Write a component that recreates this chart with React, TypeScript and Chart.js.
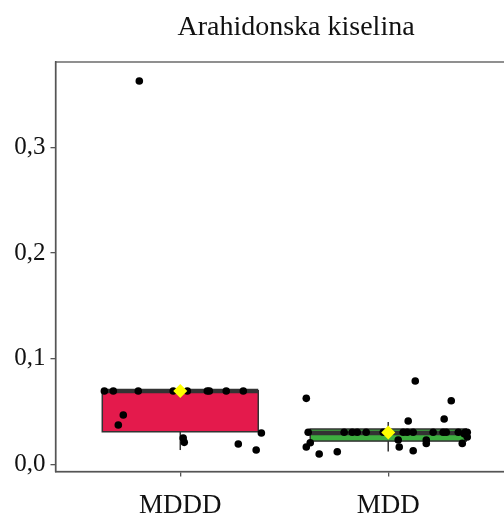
import React, { useEffect, useRef } from "react";
import { Chart, registerables } from "chart.js";

Chart.register(...registerables);

const titleText = "Arahidonska kiselina";
const categories = ["MDDD", "MDD"];
const boxColors = ["#E41A4C", "#3DAE3F"];

// box statistics per category
const q1 = [0.031, 0.0222];
const medians = [0.0695, 0.0298];
const q3 = [0.0698, 0.0336];
const whiskerLow = [0.0137, 0.0123];
const whiskerHigh = [0.0698, 0.0402];
const means = [0.0695, 0.0303];

// jittered observations: values and horizontal jitter (category units)
const mdddValues = [0.3628, 0.0695, 0.0695, 0.0695, 0.0695, 0.0695, 0.0695, 0.0695, 0.0695, 0.0695, 0.0468, 0.0374, 0.025, 0.021, 0.0298, 0.0194, 0.0137];
const mdddJitter = [-0.197, -0.365, -0.322, -0.202, -0.034, 0.034, 0.13, 0.14, 0.221, 0.303, -0.274, -0.298, 0.014, 0.019, 0.39, 0.279, 0.365];

const mddValues = [0.0626, 0.079, 0.0604, 0.0412, 0.043,
  0.0305, 0.0305, 0.0305, 0.0305, 0.0305, 0.0305, 0.0305, 0.0305, 0.0305, 0.0305, 0.0305, 0.0305, 0.0305, 0.0305, 0.0305,
  0.0206, 0.0166, 0.0099, 0.0121, 0.0232, 0.0166, 0.013, 0.0232, 0.020, 0.020, 0.026, 0.029];
const mddJitter = [-0.394, 0.13, 0.303, 0.096, 0.269,
  -0.385, -0.212, -0.173, -0.149, -0.106, -0.024, 0.072, 0.091, 0.12, 0.216, 0.264, 0.279, 0.337, 0.37, 0.38,
  -0.375, -0.394, -0.332, -0.245, 0.048, 0.053, 0.12, 0.183, 0.183, 0.356, 0.38, 0.365];

const yTicks = [0, 0.1, 0.2, 0.3];
const yTickLabels = ["0,0", "0,1", "0,2", "0,3"];
const yMin = -0.0066;
const yMax = 0.3808;
const xMin = 0.4;
const xMax = 2.6;

const boxPlugin = {
  id: "boxes",
  beforeDatasetsDraw(chart: any) {
    const { ctx, scales } = chart;
    const xs = scales.x;
    const ys = scales.y;
    ctx.save();
    categories.forEach((_, i) => {
      const xc = xs.getPixelForValue(i + 1);
      const half = xs.getPixelForValue(i + 1 + 0.375) - xc;
      ctx.strokeStyle = "#333333";
      ctx.lineWidth = 1.5;
      ctx.beginPath();
      ctx.moveTo(xc, ys.getPixelForValue(whiskerLow[i]));
      ctx.lineTo(xc, ys.getPixelForValue(q1[i]));
      ctx.moveTo(xc, ys.getPixelForValue(q3[i]));
      ctx.lineTo(xc, ys.getPixelForValue(whiskerHigh[i]));
      ctx.stroke();
      const top = ys.getPixelForValue(q3[i]);
      const bot = ys.getPixelForValue(q1[i]);
      ctx.fillStyle = boxColors[i];
      ctx.fillRect(xc - half, top, 2 * half, bot - top);
      ctx.strokeRect(xc - half, top, 2 * half, bot - top);
      const my = ys.getPixelForValue(medians[i]);
      ctx.lineWidth = 4.5;
      ctx.beginPath();
      ctx.moveTo(xc - half, my);
      ctx.lineTo(xc + half, my);
      ctx.stroke();
    });
    ctx.restore();
  },
};

const framePlugin = {
  id: "frame",
  afterDraw(chart: any) {
    const { ctx, chartArea } = chart;
    ctx.save();
    ctx.strokeStyle = "#555555";
    ctx.lineWidth = 1.3;
    ctx.strokeRect(chartArea.left, chartArea.top, chartArea.right - chartArea.left, chartArea.bottom - chartArea.top);
    ctx.fillStyle = "#111111";
    ctx.font = "28px 'Liberation Serif'";
    ctx.textAlign = "center";
    ctx.textBaseline = "alphabetic";
    ctx.fillText(titleText, 296, 35);
    ctx.restore();
  },
};

export default function App() {
  const ref = useRef<HTMLCanvasElement>(null);
  useEffect(() => {
    if (!ref.current) return;
    const chart = new Chart(ref.current, {
      type: "scatter",
      data: {
        datasets: [
          {
            label: "mean",
            data: means.map((v, i) => ({ x: i + 1, y: v })),
            pointStyle: "rectRot",
            pointRadius: 7,
            backgroundColor: "#FFFF00",
            borderWidth: 0,
            order: 0,
          },
          {
            label: categories[0],
            data: mdddValues.map((v, i) => ({ x: 1 + mdddJitter[i], y: v })),
            pointRadius: 3.8,
            backgroundColor: "#000000",
            borderWidth: 0,
            order: 1,
          },
          {
            label: categories[1],
            data: mddValues.map((v, i) => ({ x: 2 + mddJitter[i], y: v })),
            pointRadius: 3.8,
            backgroundColor: "#000000",
            borderWidth: 0,
            order: 2,
          },
        ],
      },
      options: {
        animation: false,
        responsive: false,
        devicePixelRatio: 1,
        layout: { padding: { left: 0, top: 62, right: 17, bottom: 0 } },
        plugins: { legend: { display: false }, tooltip: { enabled: false }, title: { display: false } },
        scales: {
          x: {
            type: "linear",
            min: xMin,
            max: xMax,
            afterFit: (s: any) => { s.height = 41.5; },
            afterBuildTicks: (s: any) => { s.ticks = categories.map((_, i) => ({ value: i + 1 })); },
            ticks: {
              callback: (v: any) => categories[Math.round(v) - 1],
              font: { family: "'Liberation Serif'", size: 27 },
              color: "#111111",
              padding: 13,
              maxRotation: 0,
              autoSkip: false,
            },
            grid: { drawOnChartArea: false, drawTicks: true, tickLength: 5, color: "#555555", lineWidth: 1.3 },
            border: { display: true, color: "#555555", width: 1.5 },
          },
          y: {
            type: "linear",
            min: yMin,
            max: yMax,
            afterFit: (s: any) => { s.width = 55.5; },
            afterBuildTicks: (s: any) => { s.ticks = yTicks.map((v) => ({ value: v })); },
            ticks: {
              callback: (v: any) => yTickLabels[yTicks.findIndex((t) => Math.abs(t - v) < 1e-9)],
              font: { family: "'Liberation Serif'", size: 25 },
              color: "#111111",
              padding: 5,
            },
            grid: { drawOnChartArea: false, drawTicks: true, tickLength: 5, color: "#555555", lineWidth: 1.3 },
            border: { display: true, color: "#555555", width: 1.5 },
          },
        },
      },
      plugins: [boxPlugin, framePlugin],
    });
    return () => chart.destroy();
  }, []);
  return (
    <div style={{ position: "absolute", left: 0, top: 0, width: 504, height: 513, overflow: "hidden", background: "#ffffff" }}>
      <canvas ref={ref} width={530} height={513} style={{ display: "block" }} />
    </div>
  );
}
